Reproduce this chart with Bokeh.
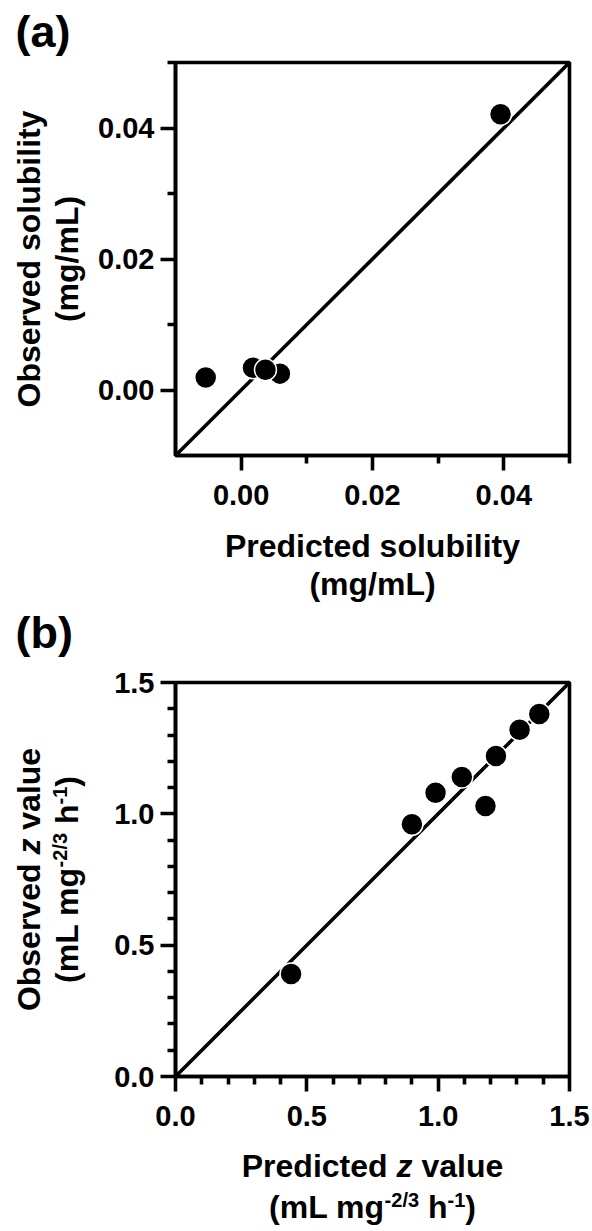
import math
from bokeh.plotting import figure
from bokeh.layouts import column, row
from bokeh.models import Range1d, FixedTicker, NumeralTickFormatter, Label
from bokeh.embed import file_html
from bokeh.resources import INLINE

# ---------------- data ----------------
pred_solubility = [-0.0054, 0.0018, 0.0059, 0.0037, 0.0395]
obs_solubility = [0.0019, 0.0034, 0.0025, 0.0031, 0.0421]

pred_z = [0.44, 0.90, 0.99, 1.09, 1.18, 1.22, 1.31, 1.385]
obs_z = [0.39, 0.96, 1.08, 1.14, 1.03, 1.22, 1.32, 1.38]

a_limits = [-0.01, 0.05]
a_major = [0.0, 0.02, 0.04]
a_minor = [0.01, 0.03, 0.05]
b_limits = [0.0, 1.5]
b_major = [0.0, 0.5, 1.0, 1.5]
b_minor = [0.1, 0.2, 0.3, 0.4, 0.6, 0.7, 0.8, 0.9, 1.1, 1.2, 1.3, 1.4]

# ---------------- layout constants ----------------
W = 592
YT_W = 90            # width of the column holding the y titles
FONT = "Liberation Sans"
TITLE = 32
SUP = 20
RAISE = 12
LW = 3.6
MID = 0.3465         # distance (em) from the alphabetic baseline to the middle of the em box

# Arial / Liberation Sans Bold advance widths (per 1000 em)
WID = {" ": 278, "(": 333, ")": 333, "/": 278, "-": 333, ".": 278,
       "L": 611, "M": 833, "O": 778, "P": 667,
       "a": 556, "b": 611, "c": 556, "d": 611, "e": 556, "g": 611, "h": 611,
       "i": 278, "l": 278, "m": 889, "o": 611, "r": 389, "s": 556, "t": 333,
       "u": 611, "v": 556, "y": 556, "z": 500}


def tw(s, size):
    return sum(WID.get(c, 556) for c in s) / 1000.0 * size


def main_fig(height, top, bottom, lim, major, minor, fmt):
    p = figure(width=W - YT_W, height=height, output_backend="svg", toolbar_location=None,
               x_range=Range1d(lim[0], lim[1]), y_range=Range1d(lim[0], lim[1]),
               min_border_left=175 - YT_W, min_border_right=23, min_border_top=top,
               min_border_bottom=bottom, frame_align=False)
    p.background_fill_color = "white"
    p.border_fill_color = "white"
    p.outline_line_color = "black"
    p.outline_line_width = LW
    p.xgrid.visible = False
    p.ygrid.visible = False
    for ax in (p.xaxis[0], p.yaxis[0]):
        ax.ticker = FixedTicker(ticks=major, minor_ticks=minor)
        ax.formatter = NumeralTickFormatter(format=fmt)
        ax.axis_line_width = LW
        ax.axis_line_color = "black"
        ax.major_tick_line_width = LW
        ax.minor_tick_line_width = LW
        ax.major_tick_line_color = "black"
        ax.minor_tick_line_color = "black"
        ax.major_tick_out = 15
        ax.major_tick_in = 0
        ax.minor_tick_out = 8
        ax.minor_tick_in = 0
        ax.major_label_text_font = FONT
        ax.major_label_text_font_style = "bold"
        ax.major_label_text_font_size = "29px"
        ax.major_label_text_color = "black"
    p.xaxis[0].major_label_standoff = 14
    p.yaxis[0].major_label_standoff = 6
    return p


def text_fig(w, h, x0, y0):
    """A blank canvas whose data units are page pixels (y pointing down)."""
    f = figure(width=w, height=h, output_backend="svg", toolbar_location=None,
               x_range=Range1d(x0, x0 + w), y_range=Range1d(y0 + h, y0),
               x_axis_location=None, y_axis_location=None,
               min_border=0, min_border_left=0, min_border_right=0,
               min_border_top=0, min_border_bottom=0, frame_align=False)
    f.outline_line_color = None
    f.background_fill_color = "white"
    f.border_fill_color = "white"
    f.xgrid.visible = False
    f.ygrid.visible = False
    return f


def add_text(f, segs, center, base, rotated=False):
    total = sum(tw(s, size) for s, size, st, r in segs)
    pos = center - total / 2 if not rotated else center + total / 2
    for s, size, style, r in segs:
        lead = tw(s[:len(s) - len(s.lstrip())], size)
        shift = r + MID * size
        if not rotated:
            x, y = pos + lead, base - shift
        else:
            x, y = base - shift, pos - lead
        f.add_layout(Label(x=x, y=y, text=s.strip(),
                           angle=(math.pi / 2 if rotated else 0),
                           text_align="left", text_baseline="middle",
                           text_font=FONT, text_font_style=style,
                           text_font_size=f"{size}px", text_color="black"))
        pos = pos + tw(s, size) if not rotated else pos - tw(s, size)


B = "bold"
BI = "bold italic"

# ---------------- panel (a): page y 0..604 ----------------
pa = main_fig(525, 62, 70, a_limits, a_major, a_minor, "0.00")
pa.line(a_limits, a_limits, line_width=LW, line_color="black")
pa.scatter(pred_solubility, obs_solubility, size=22, fill_color="black",
           line_color="white", line_width=1.5)

ya = text_fig(YT_W, 525, 0, 0)
add_text(ya, [("(a)", 45, B, 0)], 15 + tw("(a)", 45) / 2, 47)
add_text(ya, [("Observed solubility", TITLE, B, 0)], 258.5, 40, rotated=True)
add_text(ya, [("(mg/mL)", TITLE, B, 0)], 258.5, 78, rotated=True)

xa = text_fig(W, 79, 0, 525)
add_text(xa, [("Predicted solubility", TITLE, B, 0)], 372, 557)
add_text(xa, [("(mg/mL)", TITLE, B, 0)], 372, 595)

# ---------------- panel (b): page y 604..1231 ----------------
pb = main_fig(541, 78, 69, b_limits, b_major, b_minor, "0.0")
pb.line(b_limits, b_limits, line_width=LW, line_color="black")
pb.scatter(pred_z, obs_z, size=22, fill_color="black",
           line_color="white", line_width=1.5)

unit_segs = [("(mL mg", TITLE, B, 0), ("-2/3", SUP, B, RAISE),
             (" h", TITLE, B, 0), ("-1", SUP, B, RAISE), (")", TITLE, B, 0)]
z_segs = [("Observed ", TITLE, B, 0), ("z", TITLE, BI, 0), (" value", TITLE, B, 0)]
zp_segs = [("Predicted ", TITLE, B, 0), ("z", TITLE, BI, 0), (" value", TITLE, B, 0)]

yb = text_fig(YT_W, 541, 0, 604)
add_text(yb, [("(b)", 45, B, 0)], 15 + tw("(b)", 45) / 2, 648)
add_text(yb, z_segs, 879, 40, rotated=True)
add_text(yb, unit_segs, 879, 78, rotated=True)

xb = text_fig(W, 86, 0, 1145)
add_text(xb, zp_segs, 372, 1177)
add_text(xb, unit_segs, 372, 1218)

layout = column(row(ya, pa), xa, row(yb, pb), xb)
open("out.html", "w").write(file_html(layout, INLINE))
